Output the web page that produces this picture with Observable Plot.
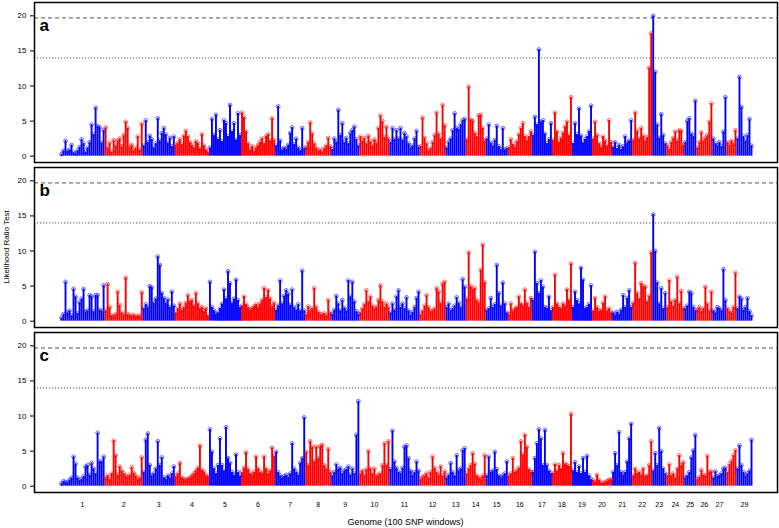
<!DOCTYPE html>
<html>
<head>
<meta charset="utf-8">
<script src="https://cdn.jsdelivr.net/npm/d3@7"></script>
<script src="https://cdn.jsdelivr.net/npm/@observablehq/plot@0.6"></script>
<style>
  body { margin: 0; background: #fff; }
  #wrap { position: relative; width: 779px; height: 528px; font-family: "Liberation Sans", Arial, sans-serif; }
  #ytitle { position: absolute; left: 6px; top: 247px; transform: translate(-50%, -50%) rotate(-90deg); white-space: nowrap; font-size: 8px; color: #000; }
  #xtitle { position: absolute; left: 405.5px; top: 517px; transform: translateX(-50%); white-space: nowrap; font-size: 9px; line-height: 10px; color: #000; }
</style>
</head>
<body>
<div id="wrap"><div id="ytitle"></div><div id="xtitle"></div></div>
<script>
// ---- data ----
const panels = ["a", "b", "c"];
const chromosomes = d3.range(1, 30);
const yTicks = [0, 5, 10, 15, 20];
const thresholds = [19.7, 14.0];
const yTitle = "Likelihood Ratio Test";
const xTitle = "Genome (100 SNP windows)";
const hiddenLabels = [28];

// LRT per 100-SNP window, one list per chromosome
const panelA = [
  [0.3,0.8,2.2,0.7,0.9,1.6,0.5,0.4,0.8,1.3,2.4,1.8,0.6,1.2,2.0,4.5,3.1,6.9,4.3,4.1,1.9,3.7],
  [4.1,1.2,1.9,0.6,2.3,1.5,2.2,2.5,1.4,3.0,4.9,4.0,1.3,1.6,0.8,1.2,2.8,0.9,4.6],
  [1.5,5.1,2.0,2.9,2.4,1.2,1.8,5.4,2.2,3.3,4.0,3.1,1.9,2.6,1.4,2.8],
  [1.6,1.9,2.4,1.7,2.9,3.6,2.8,2.0,1.6,1.2,2.1,1.8,1.1,3.1,1.5,0.9,0.6],
  [1.2,5.3,3.0,5.9,2.4,3.7,2.1,5.1,4.7,2.8,7.3,3.5,4.7,2.3,6.1,3.0],
  [6.2,5.5,3.5,1.8,0.9,1.4,0.7,1.2,1.6,2.0,2.5,1.8,2.8,3.1,2.2,5.4,2.3],
  [1.5,7.1,2.2,0.9,1.2,1.0,1.6,3.3,4.1,1.7,2.5,1.2,0.8,4.0,1.1],
  [1.3,2.0,4.8,3.2,1.8,1.2,0.7,0.9,0.6,1.1,1.5,2.6,1.4],
  [1.0,2.5,2.0,6.6,3.0,4.7,2.0,2.6,1.8,3.3,3.7,4.2,2.4,1.5],
  [2.8,2.2,2.6,1.8,2.9,2.1,1.5,2.4,1.9,4.0,5.8,5.0,2.7,4.2,2.5],
  [2.0,4.0,2.4,3.7,2.5,4.0,2.3,3.3,2.8,1.8,1.2,1.5,2.5,3.6,1.3],
  [1.4,5.5,2.6,1.8,0.8,1.1,2.0,3.0,6.2,3.2,2.5,7.3,4.4],
  [1.2,2.0,2.5,3.7,6.1,4.0,3.8,4.5,5.1,5.3],
  [2.4,9.9,5.2,5.0,3.3,2.8,5.8,5.9,4.0,2.2],
  [2.5,4.5,1.9,1.5,2.3,4.3,1.4,1.0,4.0,0.9,1.1],
  [1.2,2.4,1.7,1.3,2.1,3.1,4.0,4.7,2.8,2.3,2.8,3.5],
  [3.0,5.6,4.5,15.2,4.9,5.1,3.2,1.8,2.4,4.7],
  [2.3,6.2,3.5,2.0,2.6,3.3,4.2,4.9,3.0,8.4],
  [1.8,4.7,3.1,6.8,2.9,1.9,2.4,2.8,3.5,7.2],
  [2.5,4.9,3.0,1.8,1.3,2.8,2.2,1.5,5.1,2.0],
  [1.3,2.0,1.1,1.6,1.0,1.4,2.8,1.9,2.2,5.1],
  [2.3,6.2,3.6,2.5,4.0,2.9,2.2,2.7,12.6,17.5],
  [20.0,12.0,4.5,2.6,6.0,3.0,1.8],
  [1.5,1.0,2.0,2.6,3.5,2.2,3.7,3.6,1.6],
  [2.0,5.0,5.4,3.2,2.8,7.9],
  [1.2,2.0,3.4,2.2,2.6,3.0,4.9,7.5],
  [2.5,1.8,1.5,2.0,1.4,3.5,8.4],
  [2.0,1.6,2.2,1.8,3.7],
  [2.5,11.3,7.0,2.8,2.2,3.0,5.3,1.5]
];
const panelB = [
  [0.5,1.0,5.6,1.2,1.5,0.8,4.6,3.5,1.1,2.7,3.2,4.6,1.3,1.5,3.7,3.5,1.4,3.7,3.7,1.6,1.4,5.1],
  [1.5,5.3,2.0,0.8,0.7,1.0,4.2,2.3,1.2,0.9,6.2,1.0,0.8,0.7,0.9,0.6,0.8,0.7,4.1],
  [1.8,2.4,2.0,5.0,4.8,2.6,3.2,9.2,8.0,4.0,3.3,2.6,3.1,2.0,4.2,2.2],
  [1.2,1.8,2.5,1.6,2.0,2.6,3.7,2.8,3.0,2.2,4.0,2.5,1.8,2.0,1.4,1.8,0.8],
  [5.6,2.0,1.5,1.0,1.2,1.8,2.5,4.5,3.2,7.1,5.4,2.6,3.2,5.9,3.0,2.0],
  [2.2,3.5,2.4,2.0,1.6,1.8,2.1,2.4,2.0,2.5,3.0,4.7,3.4,4.4,3.2,2.1,2.6],
  [1.6,2.2,5.8,2.5,3.6,4.4,3.9,2.3,4.5,2.0,1.6,2.4,1.5,7.2,1.5],
  [1.0,2.1,1.5,1.8,4.7,2.0,1.3,1.0,0.9,1.1,0.8,3.0,1.2],
  [1.0,1.6,3.6,2.5,1.5,3.0,1.9,1.5,5.8,3.5,5.6,2.8,1.4,1.0],
  [1.2,1.8,2.4,4.4,2.8,3.5,2.2,1.8,2.0,3.0,5.1,2.8,2.0,2.5,2.0],
  [1.2,2.5,1.6,3.5,4.4,2.0,2.5,1.8,3.4,1.5,0.9,1.3,2.0,3.3,4.2],
  [1.0,1.5,2.2,3.7,2.0,1.4,1.5,1.8,4.7,4.2,2.6,5.3,5.6],
  [2.0,2.5,1.5,1.8,2.2,3.4,2.6,2.0,6.0,4.9],
  [3.2,9.8,5.0,4.5,4.7,3.0,2.6,7.3,10.9,5.5],
  [1.5,1.8,3.3,2.0,2.4,8.0,4.0,2.2,5.5,2.5,1.2],
  [1.0,2.5,1.5,1.8,2.0,3.5,2.5,2.2,4.5,2.6,2.0,3.3],
  [3.0,9.9,5.4,4.0,5.8,4.9,2.0,1.8,3.5,1.5],
  [2.0,6.6,2.5,2.0,1.8,2.5,2.2,4.5,3.0,8.2],
  [2.0,4.2,3.0,2.5,7.6,5.9,1.8,2.0,2.4,5.1],
  [1.5,3.3,2.0,1.4,1.6,2.6,3.5,1.5,1.8,1.2],
  [1.2,0.9,1.3,1.0,1.6,3.7,2.0,3.3,4.4,2.0],
  [2.6,8.3,4.0,3.2,5.4,5.0,4.9,2.8,3.6,9.8],
  [15.2,10.0,5.5,2.5,4.7,1.8,4.0],
  [2.0,5.8,2.8,2.2,3.0,6.3,2.5,4.3,1.8],
  [1.8,2.2,4.2,4.0,2.0,1.5],
  [1.6,2.0,1.4,1.8,4.9,2.5,1.5,4.2],
  [1.5,1.2,2.0,1.8,1.5,7.4,3.0],
  [1.8,1.4,1.2,2.0,6.9],
  [1.8,3.5,3.2,1.6,2.0,3.3,1.4,0.8]
];
const panelC = [
  [0.4,0.7,0.6,0.5,0.9,1.2,4.2,3.2,1.2,0.8,1.0,1.4,2.8,3.0,1.6,3.3,2.5,1.8,7.6,3.5,3.5,4.2],
  [1.2,1.5,1.0,1.8,6.5,4.4,1.6,2.8,2.2,1.8,1.5,1.3,1.6,2.7,1.9,1.5,1.0,1.2,4.1],
  [2.0,6.6,7.5,3.0,1.5,1.8,2.5,6.4,3.0,4.1,1.2,1.0,1.5,1.2,1.8,2.8],
  [1.4,1.8,3.3,1.2,1.0,0.9,1.1,1.2,1.5,1.8,2.2,2.6,5.8,2.3,2.0,1.5,1.4],
  [8.1,4.9,2.5,1.8,3.0,6.8,3.0,2.2,8.4,4.0,3.3,2.0,1.6,4.5,2.0,1.5],
  [2.0,2.6,4.8,2.4,1.8,1.6,2.0,4.2,2.5,2.0,1.8,4.2,2.5,1.8,2.2,5.5,4.3],
  [4.9,2.0,1.5,1.2,1.4,1.6,1.3,1.8,6.1,2.5,2.0,1.6,3.3,4.0,9.8],
  [4.9,3.0,6.4,5.6,3.5,5.6,4.0,5.7,5.9,3.0,2.5,5.3,2.0],
  [1.5,2.0,3.1,2.4,2.6,1.8,2.2,2.4,2.8,1.6,2.5,1.8,7.3,12.1],
  [1.8,2.2,1.6,2.4,5.0,2.5,1.8,2.5,1.4,1.6,1.8,3.0,6.1,3.0,6.4],
  [2.4,7.9,3.5,2.6,2.0,1.8,2.6,5.6,5.8,4.0,2.2,1.6,2.0,3.5,2.2],
  [1.0,1.3,1.5,1.8,1.2,2.0,4.2,2.6,2.0,1.6,2.8,1.5,2.1],
  [1.2,1.6,3.3,2.0,1.5,4.4,2.2,2.5,5.1,5.4],
  [1.8,2.5,3.0,4.7,3.2,1.5,1.2,1.0,1.5,4.4],
  [1.5,4.2,2.0,2.2,4.9,2.4,1.5,1.2,1.5,1.8,3.5],
  [1.5,1.8,4.0,2.0,2.2,2.6,6.4,4.5,7.3,5.6,2.4,2.0],
  [2.0,4.0,6.1,8.1,6.8,3.0,8.0,3.0,2.2,1.8],
  [1.8,3.1,2.2,3.0,2.5,4.7,3.2,3.0,2.8,10.3],
  [2.2,3.4,2.0,2.8,1.8,4.0,2.0,4.3,1.5,1.0],
  [0.8,0.6,1.6,0.9,0.5,0.4,0.6,0.7,0.9,1.0],
  [2.0,4.7,3.0,7.7,2.0,1.6,2.0,3.5,6.8,8.9],
  [1.5,2.5,1.8,2.0,1.6,2.5,1.4,1.5,3.0,6.4],
  [2.2,4.7,3.0,8.3,5.0,2.5,1.8],
  [1.5,3.1,1.5,1.8,1.2,2.5,4.4,3.0,3.4],
  [1.2,1.5,2.0,4.1,5.1,7.3],
  [1.0,1.3,2.3,1.6,1.5,4.3,2.0,2.1],
  [1.2,2.1,1.4,1.5,1.8,2.5,2.6],
  [2.0,3.1,3.6,4.4,5.1],
  [2.5,5.8,3.0,2.0,1.5,1.8,2.2,6.6]
];

// ---- build table ----
const starts = [];
let acc = 0;
panelA.forEach(a => { starts.push(acc); acc += a.length; });
const total = acc;
const rows = [];
[panelA, panelB, panelC].forEach((P, pi) =>
  P.forEach((vals, ci) =>
    vals.forEach((v, k) => rows.push({ panel: panels[pi], chr: chromosomes[ci], idx: starts[ci] + k, v }))));

const labelChroms = chromosomes.filter(c => !hiddenLabels.includes(c));
const tickPos = labelChroms.map(c => starts[c - 1] + (panelA[c - 1].length - 1) / 2);
const labelAt = new Map(tickPos.map((p, i) => [p, String(labelChroms[i])]));
const colorOf = d => (d.chr % 2 ? "#0000ff" : "#ff0000");

const plot = Plot.plot({
  width: 779,
  height: 528,
  marginTop: 1,
  marginLeft: 34,
  marginRight: 2,
  marginBottom: 35,
  style: { fontFamily: "'Liberation Sans', Arial, sans-serif", fontSize: "8px", background: "white", color: "black" },
  x: { domain: [0, total - 1], insetLeft: 27, insetRight: 26, axis: null },
  y: { domain: [-0.9, 21.9], axis: null },
  fy: { domain: panels, paddingInner: 0.03, paddingOuter: 0, axis: null },
  color: { type: "identity" },
  marks: [
    Plot.ruleY([thresholds[0]], { stroke: "#555", strokeWidth: 1, strokeDasharray: "4,3" }),
    Plot.ruleY([thresholds[1]], { stroke: "#555", strokeWidth: 1, strokeDasharray: "1.2,1.8" }),
    Plot.ruleX(rows, { x: "idx", y1: 0, y2: "v", fy: "panel", stroke: colorOf, strokeWidth: 1.9 }),
    Plot.dot(rows, { x: "idx", y: "v", fy: "panel", stroke: colorOf, r: 1.9, strokeWidth: 0.9, strokeOpacity: 0.6, fill: "none" }),
    Plot.frame({ stroke: "black", strokeWidth: 1.5 }),
    Plot.axisY(yTicks, { tickSize: 4, tickPadding: 4, fontSize: 8, label: null }),
    Plot.axisX(tickPos, { tickSize: 0, tickPadding: 10, fontSize: 7, label: null, tickFormat: d => labelAt.get(d) }),
    Plot.text(panels, { fy: d => d, text: d => d, frameAnchor: "top-left", dx: 5, dy: 16, fontSize: 17, fontWeight: "bold" })
  ]
});

const wrap = document.getElementById("wrap");
wrap.insertBefore(plot, wrap.firstChild);
document.getElementById("ytitle").textContent = yTitle;
document.getElementById("xtitle").textContent = xTitle;
</script>
</body>
</html>
